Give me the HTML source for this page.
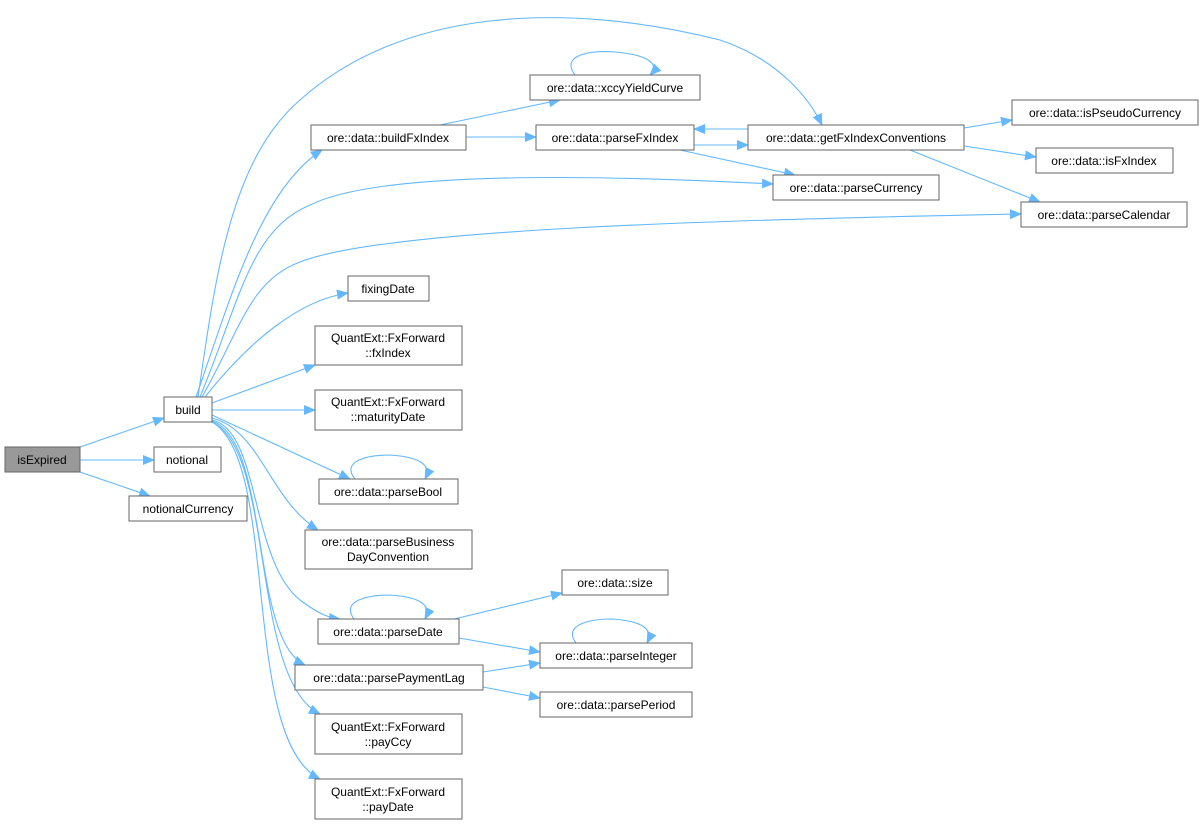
<!DOCTYPE html>
<html><head><meta charset="utf-8"><style>
body{margin:0;background:#fff;}
svg text{font-family:"Liberation Sans",Arial,sans-serif;font-size:12px;fill:#000;}
</style></head><body>
<svg width="1204" height="827" viewBox="0 0 1204 827" xmlns="http://www.w3.org/2000/svg">
<defs><marker id="a" markerWidth="12" markerHeight="10" refX="11" refY="5" orient="auto" markerUnits="userSpaceOnUse"><path d="M0,0 L12,5 L0,10 z" fill="#63b8ff"/></marker></defs>
<g fill="none" stroke="#63b8ff" stroke-width="1.1" marker-end="url(#a)">
<path d="M80,447 L164,418"/>
<path d="M80,460 L154,460"/>
<path d="M80,472 L150,496"/>
<path d="M196,397 C230,300 260,190 322,150"/>
<path d="M198,397 C215,280 230,160 300,100 C400,10 560,0 720,40 C780,60 810,100 822,125"/>
<path d="M200,397 C240,300 250,230 310,205 C380,170 600,175 773,184"/>
<path d="M202,397 C240,330 250,280 300,262 C380,230 700,220 1021,214"/>
<path d="M205,397 C250,340 300,300 348,293"/>
<path d="M212,403 L315,365"/>
<path d="M212,410 L315,410"/>
<path d="M212,415 L350,479"/>
<path d="M212,418 C260,430 270,500 318,530"/>
<path d="M212,420 C260,430 250,560 300,600 C320,615 330,618 340,619"/>
<path d="M212,421 C270,440 250,640 305,665"/>
<path d="M212,422 C275,450 250,680 320,714"/>
<path d="M212,422 C280,460 240,740 320,779"/>
<path d="M440,125 L560,100"/>
<path d="M466,137 L536,137"/>
<path d="M694,145 L748,145"/>
<path d="M748,129 L694,129"/>
<path d="M680,150 L795,175"/>
<path d="M910,150 L1040,202"/>
<path d="M964,128 L1012,120"/>
<path d="M964,146 L1036,157"/>
<path d="M450,620 L562,593"/>
<path d="M459,638 L540,652"/>
<path d="M483,672 L540,663"/>
<path d="M483,687 L540,698"/>
<path d="M575,75 C560,55 590,50 615,52 C650,55 660,65 650,75"/>
<path d="M355,479 C340,460 370,455 390,455 C420,457 432,465 425,479"/>
<path d="M354,619 C340,600 370,595 390,595 C420,597 432,605 425,619"/>
<path d="M576,643 C562,624 592,619 612,619 C642,621 654,629 647,643"/>
</g>
<g stroke="#666" stroke-width="1" fill="#fff">
<rect x="5" y="447" width="75" height="25" fill="#999"/>
<rect x="164" y="397" width="48" height="25"/>
<rect x="154" y="447" width="67" height="25"/>
<rect x="129" y="496" width="118" height="25"/>
<rect x="311" y="125" width="155" height="25"/>
<rect x="530" y="75" width="170" height="25"/>
<rect x="536" y="125" width="158" height="25"/>
<rect x="748" y="125" width="216" height="25"/>
<rect x="773" y="175" width="166" height="25"/>
<rect x="1012" y="100" width="186" height="25"/>
<rect x="1036" y="148" width="137" height="25"/>
<rect x="1021" y="202" width="166" height="25"/>
<rect x="348" y="276" width="81" height="25"/>
<rect x="315" y="326" width="147" height="39"/>
<rect x="315" y="390" width="147" height="40"/>
<rect x="319" y="479" width="139" height="25"/>
<rect x="305" y="530" width="167" height="39"/>
<rect x="318" y="619" width="141" height="25"/>
<rect x="562" y="570" width="106" height="25"/>
<rect x="540" y="643" width="152" height="25"/>
<rect x="295" y="665" width="188" height="25"/>
<rect x="540" y="692" width="152" height="25"/>
<rect x="315" y="714" width="147" height="40"/>
<rect x="315" y="779" width="147" height="40"/>
</g>
<g text-anchor="middle">
<text x="42" y="464">isExpired</text>
<text x="188" y="414">build</text>
<text x="187" y="464">notional</text>
<text x="188" y="513">notionalCurrency</text>
<text x="388" y="142">ore::data::buildFxIndex</text>
<text x="615" y="92">ore::data::xccyYieldCurve</text>
<text x="615" y="142">ore::data::parseFxIndex</text>
<text x="856" y="142">ore::data::getFxIndexConventions</text>
<text x="856" y="192">ore::data::parseCurrency</text>
<text x="1105" y="117">ore::data::isPseudoCurrency</text>
<text x="1104" y="165">ore::data::isFxIndex</text>
<text x="1104" y="219">ore::data::parseCalendar</text>
<text x="388" y="293">fixingDate</text>
<text x="388" y="342">QuantExt::FxForward</text>
<text x="388" y="357">::fxIndex</text>
<text x="388" y="406">QuantExt::FxForward</text>
<text x="388" y="421">::maturityDate</text>
<text x="388" y="496">ore::data::parseBool</text>
<text x="388" y="546">ore::data::parseBusiness</text>
<text x="388" y="561">DayConvention</text>
<text x="388" y="636">ore::data::parseDate</text>
<text x="615" y="587">ore::data::size</text>
<text x="616" y="660">ore::data::parseInteger</text>
<text x="389" y="682">ore::data::parsePaymentLag</text>
<text x="616" y="709">ore::data::parsePeriod</text>
<text x="388" y="731">QuantExt::FxForward</text>
<text x="388" y="746">::payCcy</text>
<text x="388" y="796">QuantExt::FxForward</text>
<text x="388" y="811">::payDate</text>
</g>
</svg>
</body></html>
